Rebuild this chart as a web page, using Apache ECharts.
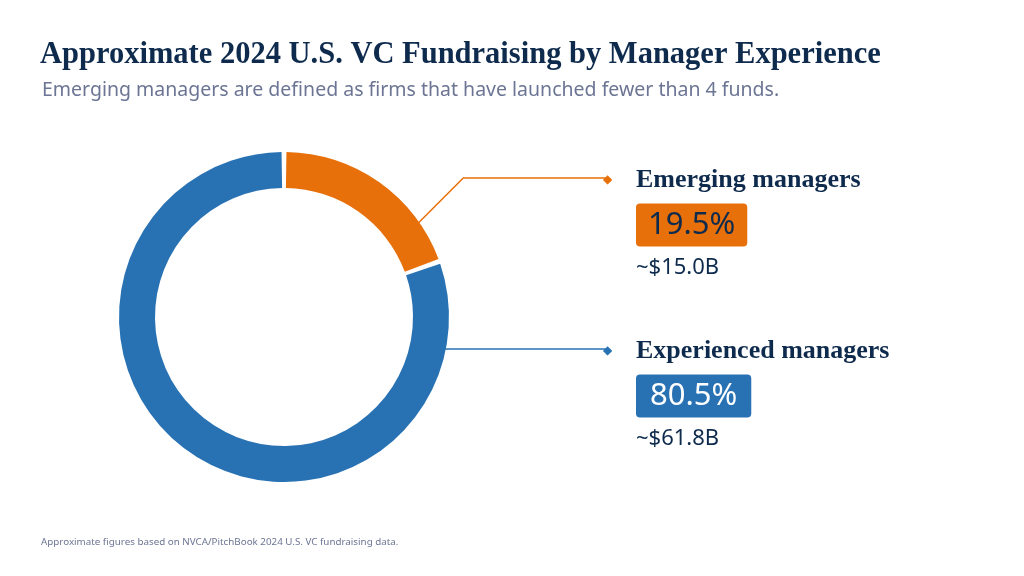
<!DOCTYPE html>
<html><head><meta charset="utf-8">
<script src="https://cdn.jsdelivr.net/npm/echarts@6/dist/echarts.min.js"></script>
<style>html,body{margin:0;padding:0;background:#fff}#c{width:1024px;height:576px}</style>
</head><body><div id="c"></div>
<script>
// ---- data ----
const categories = ['Emerging managers', 'Experienced managers'];
const amountsB = [15.0, 61.8];
const amountLabels = ['~$15.0B', '~$61.8B'];
const titleText = 'Approximate 2024 U.S. VC Fundraising by Manager Experience';
const subtitleText = 'Emerging managers are defined as firms that have launched fewer than 4 funds.';
const footerText = 'Approximate figures based on NVCA/PitchBook 2024 U.S. VC fundraising data.';

// ---- style ----
const sliceColors = ['#e8700a', '#2872b4'];
const boxTextColors = ['#0e2b4d', '#ffffff'];
const boxPadX = [12, 14];
const NAVY = '#0e2b4d';
const GREY = '#6c7594';
const SERIF = '"Liberation Serif", "DejaVu Serif", serif';
const SANS = '"Noto Sans", "Open Sans", sans-serif';
const CX = 284, CY = 317, R_OUT = 165, R_IN = 129, R_EDGE = 164;
const labelX = 603, labelTops = [165, 336], lineEndX = 608, anchorDeg0 = 35;

const chart = echarts.init(document.getElementById('c'), null, {renderer: 'canvas'});

const data = categories.map((name, i) => ({
  name: name,
  value: amountsB[i],
  itemStyle: {color: sliceColors[i]},
  label: {
    rich: {
      d: {fontFamily: '"DejaVu Sans", sans-serif', fontSize: 12, color: sliceColors[i], width: 33, lineHeight: 30, align: 'left'},
      t: {fontFamily: SERIF, fontWeight: 'bold', fontSize: 26, color: NAVY, lineHeight: 30},
      s: {width: 33, fontSize: 10, lineHeight: 20},
      box: {fontFamily: SANS, fontSize: 31, color: boxTextColors[i], backgroundColor: sliceColors[i],
            borderRadius: 4, padding: [6, boxPadX[i]], lineHeight: 60},
      a: {fontFamily: SANS, fontSize: 22, color: NAVY, lineHeight: 26}
    }
  }
}));

chart.setOption({
  animation: false,
  title: [
    {text: titleText, left: 40, top: 40, padding: 0,
     textStyle: {fontFamily: SERIF, fontWeight: 'bold', fontSize: 30.5, color: NAVY}},
    {text: subtitleText, left: 42, top: 80, padding: 0,
     textStyle: {fontFamily: SANS, fontWeight: 'normal', fontSize: 19.5, color: GREY}},
    {text: footerText, left: 41, top: 537, padding: 0,
     textStyle: {fontFamily: SANS, fontWeight: 'normal', fontSize: 9.8, color: GREY}}
  ],
  series: [{
    type: 'pie',
    center: [CX, CY],
    radius: [R_IN, R_OUT],
    startAngle: 90,
    clockwise: true,
    padAngle: 1.7,
    percentPrecision: 1,
    avoidLabelOverlap: false,
    emphasis: {disabled: true},
    label: {
      show: true,
      position: 'outside',
      formatter: function (p) {
        return '{d|◆}{t|' + p.name + '}\n{s| }{box|' + p.percent.toFixed(1) + '%}\n{s| }{a|' + amountLabels[p.dataIndex] + '}';
      }
    },
    labelLine: {show: true, smooth: false, lineStyle: {width: 1.5}},
    labelLayout: function (params) {
      const i = params.dataIndex;
      const top = labelTops[i];
      const ly = top + 13;
      let pts;
      if (i === 0) {
        const a = anchorDeg0 * Math.PI / 180;
        const sx = CX + R_EDGE * Math.cos(a), sy = CY - R_EDGE * Math.sin(a);
        const ex = sx + (sy - ly);
        pts = [[sx, sy], [ex, ly], [lineEndX, ly]];
      } else {
        const sx = CX + Math.sqrt(R_EDGE * R_EDGE - (ly - CY) * (ly - CY));
        pts = [[sx, ly], [(sx + lineEndX) / 2, ly], [lineEndX, ly]];
      }
      return {x: labelX, y: top, align: 'left', verticalAlign: 'top', labelLinePoints: pts};
    },
    data: data
  }]
});
</script>
</body></html>
